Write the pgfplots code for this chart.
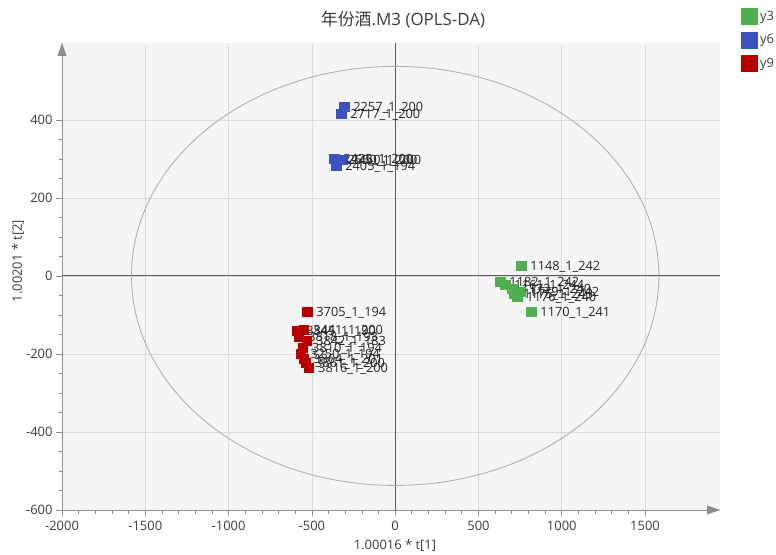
\documentclass[border=0pt]{standalone}
\usepackage{fontspec}
\setmainfont{Open Sans}
\newfontfamily\cjk{Noto Sans CJK SC}
\usepackage{pgfplots}
\usepackage{pgfplotstable}
\pgfplotsset{compat=1.18}
\usetikzlibrary{arrows.meta}
\definecolor{cg}{RGB}{80,175,80}
\definecolor{cb}{RGB}{62,82,190}
\definecolor{cr}{RGB}{185,0,0}
\definecolor{txt}{RGB}{60,60,60}

\pgfplotstableread{
x y label
757 26 1148\_1\_242
631 -15 1182\_1\_242
661 -23 1161\_1\_244
703 -33 1172\_1\_240
751 -41 1179\_1\_242
715 -46 1175\_1\_243
733 -54 1176\_1\_240
817 -92 1170\_1\_241
}\greentab

\pgfplotstableread{
x y label
-306 433 2257\_1\_200
-324 415 2717\_1\_200
-366 300 2425\_1\_200
-340 298 2550\_1\_200
-318 298 2460\_1\_200
-354 282 2405\_1\_194
}\bluetab

\pgfplotstableread{
x y label
-528 -92 3705\_1\_194
-589 -141 3845\_1\_190
-547 -138 3441\_1\_200
-577 -156 3818\_1\_193
-529 -167 3842\_1\_183
-553 -185 3810\_1\_194
-565 -200 3250\_1\_194
-547 -213 3864\_1\_201
-535 -223 3861\_1\_200
-517 -236 3816\_1\_200
}\redtab

\begin{document}
\begin{tikzpicture}
\useasboundingbox (0,0) rectangle (776bp,555bp);
\begin{axis}[
  at={(62bp,45bp)}, anchor=south west,
  scale only axis, width=658bp, height=467bp,
  xmin=-2000, xmax=1950, ymin=-600, ymax=597,
  axis lines=left,
  x axis line style={-{Triangle[length=13bp,width=9bp]}},
  y axis line style={-{Triangle[length=13bp,width=9bp]}},
  axis line style={black!45, line width=0.8bp},
  axis background/.style={fill=black!4},
  xtick={-2000,-1500,...,1500},
  ytick={-600,-400,...,400},
  minor x tick num=4, minor y tick num=3,
  tick align=outside,
  major tick length=6bp, minor tick length=3.5bp,
  every tick/.style={black!45, line width=0.7bp},
  grid=major,
  major grid style={black!14, line width=0.6bp},
  extra x ticks={0}, extra x tick labels={},
  extra y ticks={0}, extra y tick labels={},
  extra x tick style={grid=major, major grid style={black!65, line width=1bp}},
  extra y tick style={grid=major, major grid style={black!65, line width=1bp}},
  scaled ticks=false,
  /pgf/number format/1000 sep={},
  /pgf/number format/assume math mode=true,
  ticklabel style={font=\fontsize{13}{15}\selectfont, text=txt},
  xticklabel style={yshift=-2bp},
  legend style={at={(1.032,1.075)}, anchor=north west, draw=none, fill=none,
    font=\fontsize{13}{15}\selectfont, text=txt, row sep=7bp,
    nodes={inner xsep=2.5bp, inner ysep=0pt}, inner sep=0pt},
  legend cell align=left,
  clip=false,
  every node near coord/.append style={anchor=base west, xshift=8bp, yshift=-4.6bp,
    font=\fontsize{12.8}{14}\selectfont, text=black!85, inner sep=1bp},
]
\draw[black!30, line width=0.9bp] (axis cs:0,0) ellipse [x radius=1583, y radius=537];

\addplot[only marks, mark=square*, mark size=4.6bp, color=cg,
  nodes near coords, point meta=explicit symbolic,
  legend image code/.code={\fill[cg] (0bp,-8bp) rectangle (16bp,8bp);}]
  table[x=x, y=y, meta=label] {\greentab};
\addlegendentry{y3}
\addplot[only marks, mark=square*, mark size=4.6bp, color=cb,
  nodes near coords, point meta=explicit symbolic,
  legend image code/.code={\fill[cb] (0bp,-8bp) rectangle (16bp,8bp);}]
  table[x=x, y=y, meta=label] {\bluetab};
\addlegendentry{y6}
\addplot[only marks, mark=square*, mark size=4.6bp, color=cr,
  nodes near coords, point meta=explicit symbolic,
  legend image code/.code={\fill[cr] (0bp,-8bp) rectangle (16bp,8bp);}]
  table[x=x, y=y, meta=label] {\redtab};
\addlegendentry{y9}
\end{axis}
\node[font=\fontsize{17}{19}\selectfont, text=txt] at (403bp,535bp) {{\cjk 年份酒}.M3 (OPLS-DA)};
\node[font=\fontsize{13}{15}\selectfont, text=txt] at (395bp,9bp) {1.00016 * t[1]};
\node[font=\fontsize{13}{15}\selectfont, text=txt, rotate=90] at (18bp,294bp) {1.00201 * t[2]};
\end{tikzpicture}
\end{document}
